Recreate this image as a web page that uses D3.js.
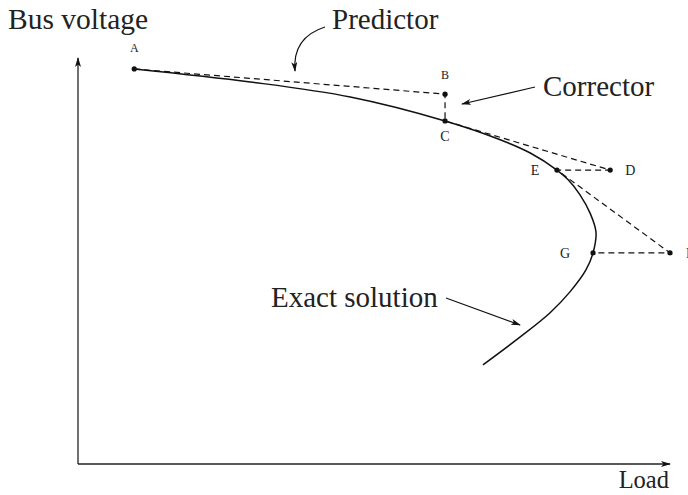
<!DOCTYPE html>
<html lang="en">

<head>
    <meta charset="UTF-8">
    <title>Predictor-corrector continuation</title>
    <script src="https://d3js.org/d3.v7.min.js"></script>
    <style>
        body { margin: 0; background: #fff; }
        text { font-family: "Liberation Serif", "Times New Roman", serif; fill: #222; }
    </style>
</head>

<body>
    <script>
        var w = 688;
        var h = 495;

        // exact solution (PV nose curve), load vs bus voltage in arbitrary units
        var curveLoad = [9.5, 29.1, 46.0, 62.0, 71.1, 76.4, 80.9, 82.8, 84.8, 86.5, 87.5, 87.0, 85.8, 83.1, 79.7, 74.7, 68.4];
        var curveVolt = [97.3, 94.1, 90.4, 84.5, 80.0, 76.6, 72.4, 70.0, 66.3, 61.8, 57.1, 52.0, 47.8, 42.4, 37.2, 31.3, 24.4];

        // predictor / corrector steps
        var stepNames = ["A", "B", "C", "D", "E", "F", "G"];
        var stepLoad = [9.5, 62.0, 62.0, 89.9, 80.9, 100.0, 87.0];
        var stepVolt = [97.3, 91.1, 84.5, 72.4, 72.4, 52.0, 52.0];

        var x = d3.scaleLinear().domain([0, 100]).range([78, 670]);
        var y = d3.scaleLinear().domain([0, 100]).range([464, 58]);

        var svg = d3.select("body")
            .append("svg")
            .attr("width", w)
            .attr("height", h);

        var defs = svg.append("defs");
        defs.append("marker")
            .attr("id", "arrow")
            .attr("viewBox", "0 0 10 6")
            .attr("refX", 9)
            .attr("refY", 3)
            .attr("markerWidth", 10)
            .attr("markerHeight", 6)
            .attr("markerUnits", "userSpaceOnUse")
            .attr("orient", "auto")
            .append("path")
            .attr("d", "M0,0 L10,3 L0,6 L2.5,3 Z")
            .attr("fill", "#111");

        // axes
        svg.append("line")
            .attr("x1", x(0)).attr("y1", y(0))
            .attr("x2", x(0)).attr("y2", y(100))
            .attr("stroke", "#222").attr("stroke-width", 1.3)
            .attr("marker-end", "url(#arrow)");
        svg.append("line")
            .attr("x1", x(0)).attr("y1", y(0))
            .attr("x2", x(100)).attr("y2", y(0))
            .attr("stroke", "#222").attr("stroke-width", 1.3)
            .attr("marker-end", "url(#arrow)");

        svg.append("text").attr("x", 8).attr("y", 29)
            .attr("font-size", "29.5px").text("Bus voltage");
        svg.append("text").attr("x", 669).attr("y", 488)
            .attr("text-anchor", "end")
            .attr("font-size", "24.5px").text("Load");

        var curveData = curveLoad.map(function (d, i) { return [d, curveVolt[i]]; });
        var line = d3.line()
            .x(function (d) { return x(d[0]); })
            .y(function (d) { return y(d[1]); })
            .curve(d3.curveCatmullRom.alpha(0.5));

        svg.append("path")
            .datum(curveData)
            .attr("d", line)
            .attr("fill", "none")
            .attr("stroke", "#111")
            .attr("stroke-width", 1.5);

        var steps = stepNames.map(function (n, i) {
            return { name: n, load: stepLoad[i], volt: stepVolt[i] };
        });

        svg.append("path")
            .datum(steps)
            .attr("d", d3.line()
                .x(function (d) { return x(d.load); })
                .y(function (d) { return y(d.volt); }))
            .attr("fill", "none")
            .attr("stroke", "#111")
            .attr("stroke-width", 1.2)
            .attr("stroke-dasharray", "6,4");

        svg.selectAll("circle")
            .data(steps)
            .enter()
            .append("circle")
            .attr("cx", function (d) { return x(d.load); })
            .attr("cy", function (d) { return y(d.volt); })
            .attr("r", 2.6)
            .attr("fill", "#111");

        // label offsets [dx, dy, size]
        var labelPos = {
            A: [0, -17, 12], B: [0, -15, 12], C: [0, 20, 14],
            D: [20, 5, 14], E: [-22, 5, 14], F: [20, 5, 14], G: [-28, 5, 14]
        };
        svg.selectAll(".lbl")
            .data(steps)
            .enter()
            .append("text")
            .attr("class", "lbl")
            .attr("x", function (d) { return x(d.load) + labelPos[d.name][0]; })
            .attr("y", function (d) { return y(d.volt) + labelPos[d.name][1]; })
            .attr("text-anchor", "middle")
            .attr("font-size", function (d) { return labelPos[d.name][2] + "px"; })
            .text(function (d) { return d.name; });

        // annotations
        svg.append("text").attr("x", 332).attr("y", 29)
            .attr("font-size", "29px").text("Predictor");
        svg.append("path")
            .attr("d", "M325,27 C306,33 293,46 295,71")
            .attr("fill", "none").attr("stroke", "#111").attr("stroke-width", 1.2)
            .attr("marker-end", "url(#arrow)");

        svg.append("text").attr("x", 543).attr("y", 96)
            .attr("font-size", "29px").text("Corrector");
        svg.append("line")
            .attr("x1", 535).attr("y1", 87).attr("x2", 462).attr("y2", 104)
            .attr("stroke", "#111").attr("stroke-width", 1.2)
            .attr("marker-end", "url(#arrow)");

        svg.append("text").attr("x", 271).attr("y", 307)
            .attr("font-size", "29px").text("Exact solution");
        svg.append("line")
            .attr("x1", 446).attr("y1", 298).attr("x2", 520).attr("y2", 325)
            .attr("stroke", "#111").attr("stroke-width", 1.2)
            .attr("marker-end", "url(#arrow)");
    </script>
</body>

</html>
